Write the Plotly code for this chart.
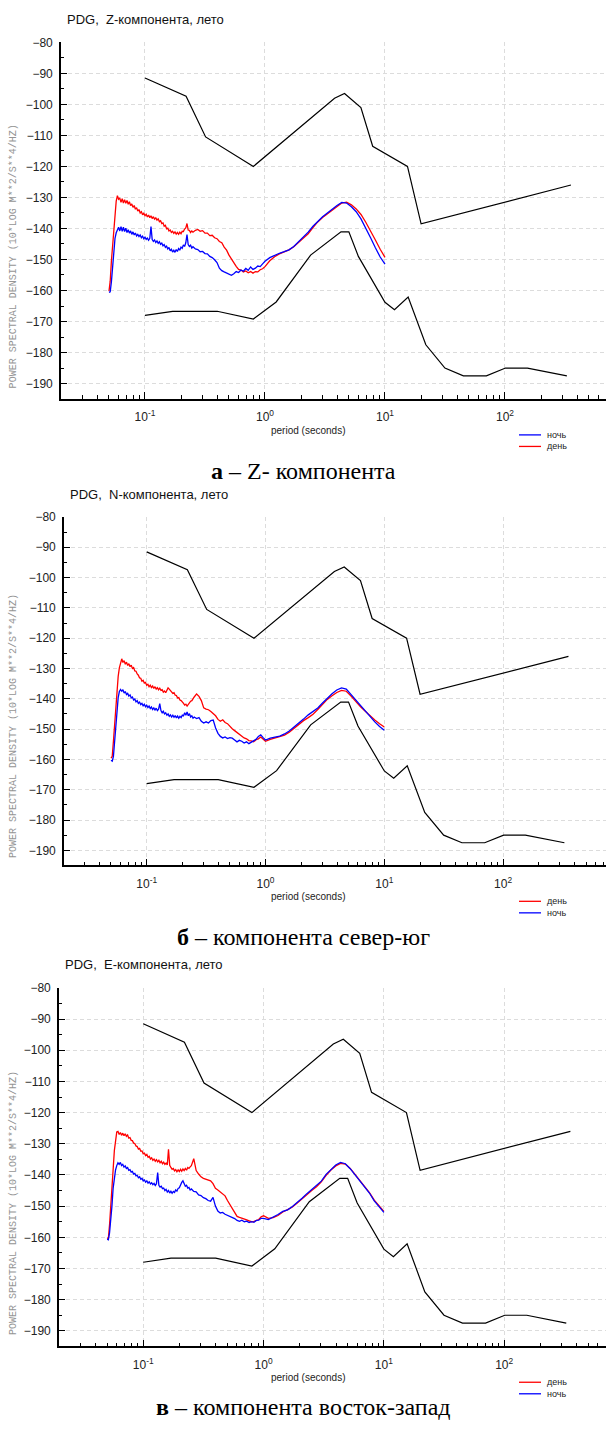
import plotly.graph_objects as go

# Shared period grid (log10 of period in seconds) for the measured spectra
LOG_PERIOD = [
    -1.30, -1.29, -1.28, -1.27, -1.26, -1.25, -1.24, -1.23, -1.22, -1.21,
    -1.20, -1.19, -1.18, -1.17, -1.16, -1.15, -1.14, -1.13, -1.12, -1.11,
    -1.10, -1.09, -1.08, -1.07, -1.06, -1.05, -1.04, -1.03, -1.02, -1.01,
    -1.00, -0.99, -0.98, -0.97, -0.96, -0.95, -0.94, -0.93, -0.92, -0.91,
    -0.90, -0.89, -0.88, -0.87, -0.86, -0.85, -0.84, -0.83, -0.82, -0.81,
    -0.80, -0.79, -0.78, -0.77, -0.76, -0.75, -0.74, -0.73, -0.72, -0.71,
    -0.70, -0.69, -0.68, -0.67, -0.66, -0.65, -0.64, -0.63, -0.62, -0.61,
    -0.60,
    -0.58, -0.56, -0.54, -0.52, -0.50, -0.48, -0.46, -0.44, -0.42, -0.40,
    -0.38, -0.36, -0.34, -0.32, -0.30, -0.28, -0.26, -0.24, -0.22, -0.20,
    -0.18, -0.16, -0.14, -0.12, -0.10, -0.08, -0.06, -0.04, -0.02, 0.00,
    0.04, 0.08, 0.12, 0.16, 0.20, 0.24, 0.28, 0.32, 0.36, 0.40,
    0.44, 0.48, 0.52, 0.56, 0.60, 0.64, 0.68, 0.72, 0.76, 0.80,
    0.84, 0.88, 0.92, 0.96, 1.00,
]

# Z component, day / night (dB)
Z_DAY = [
    -160.2, -157.0, -150.5, -144.8, -139.6, -135.0, -131.2, -129.4, -130.6, -130.2,
    -131.6, -130.4, -131.8, -130.7, -131.9, -131.0, -132.2, -131.4, -132.6, -132.1,
    -133.2, -132.6, -133.8, -133.3, -134.4, -133.9, -135.0, -134.6, -135.6, -135.1,
    -135.9, -135.4, -136.3, -135.7, -136.5, -135.9, -136.8, -136.2, -137.0, -136.6,
    -137.3, -136.9, -137.8, -137.5, -138.4, -138.2, -139.3, -139.0, -140.1, -139.9,
    -140.8, -140.5, -141.3, -140.9, -141.6, -141.1, -141.8, -141.3, -141.9, -141.2,
    -141.7, -140.9, -141.0, -140.2, -139.8, -138.4, -140.5, -140.6, -141.3, -140.8,
    -141.2,
    -140.6, -140.3, -140.9, -140.7, -141.5, -141.5, -142.3, -142.2, -143.0, -143.3,
    -144.2, -144.6, -146.0, -147.0, -148.6, -149.8, -151.3, -152.2, -153.2, -153.4,
    -154.0, -153.7, -154.3, -153.9, -154.4, -153.9, -154.0, -153.3, -153.0, -152.3,
    -150.4, -149.1, -148.2, -147.5, -146.9, -145.9, -144.6, -143.3, -141.7, -139.7,
    -137.9, -136.5, -135.3, -134.0, -132.8, -131.8, -131.5, -132.4, -133.7, -135.5,
    -138.0, -140.7, -143.7, -146.7, -149.3,
]
Z_NIGHT = [
    -160.6, -160.4, -157.2, -152.0, -147.0, -143.2, -141.4, -140.2, -139.6, -140.8,
    -139.4, -140.9, -139.6, -141.0, -139.9, -141.3, -140.4, -141.5, -140.8, -141.9,
    -141.1, -142.1, -141.5, -142.4, -141.9, -142.6, -142.1, -143.0, -142.5, -143.3,
    -142.8, -143.5, -143.1, -143.8, -143.2, -139.4, -143.6, -144.2, -143.7, -144.5,
    -144.0, -144.8, -144.3, -145.1, -144.7, -145.6, -145.2, -146.1, -145.7, -146.6,
    -146.1, -147.2, -146.7, -147.6, -147.0, -147.7, -146.8, -147.4, -146.5, -147.0,
    -146.0, -146.4, -145.3, -145.8, -144.6, -142.0, -145.2, -145.8, -145.4, -146.3,
    -145.9,
    -146.6, -146.8, -147.5, -147.4, -148.1, -148.2, -149.0, -149.4, -150.1, -151.0,
    -152.8, -153.6, -154.0, -154.3, -154.6, -155.1, -154.6, -153.9, -154.2, -153.4,
    -153.8, -152.9, -153.5, -152.4, -153.2, -152.8, -152.1, -152.3, -151.4, -150.6,
    -149.4, -148.6, -148.0, -147.5, -146.9, -145.8, -144.3, -143.0, -141.2, -139.3,
    -137.6, -136.2, -135.0, -133.7, -132.6, -131.6, -131.8, -133.0, -134.6, -136.9,
    -139.8, -143.0, -146.2, -149.2, -151.5,
]

# N component (north-south), day / night (dB)
N_DAY = [
    -159.6, -159.0, -154.0, -148.4, -142.0, -136.4, -132.6, -129.8, -127.6, -126.8,
    -128.0, -127.4, -128.6, -127.9, -129.0, -128.4, -129.4, -128.9, -130.0, -129.7,
    -130.8, -130.9, -131.8, -132.2, -133.1, -133.2, -134.2, -133.9, -134.8, -134.6,
    -135.5, -135.2, -136.0, -135.5, -136.3, -135.8, -136.6, -136.0, -136.8, -136.3,
    -137.0, -136.5, -137.2, -137.0, -137.8, -137.4, -138.0, -137.0, -136.4, -136.8,
    -137.3, -137.6, -138.2, -138.0, -138.8, -138.9, -139.7, -139.6, -140.4, -140.6,
    -141.3, -141.5, -142.1, -141.8, -142.4, -141.7, -141.5, -140.8, -140.6, -139.7,
    -139.4,
    -138.4, -139.2, -140.6, -143.0, -143.4, -143.6, -144.2, -144.8, -145.6, -146.8,
    -147.4, -146.9, -147.8, -148.2, -149.1, -149.9, -150.5, -151.1, -151.8, -152.3,
    -152.9, -153.2, -153.8, -153.9, -154.2, -153.5, -153.2, -152.6, -153.4, -154.0,
    -153.4, -153.0, -152.6, -152.0, -151.0, -149.7, -148.4, -147.2, -146.2, -145.1,
    -143.5, -141.8, -140.2, -139.0, -137.9, -137.2, -137.5, -139.1, -140.9, -142.6,
    -144.1, -145.6, -147.0, -148.2, -149.3,
]
N_NIGHT = [
    -160.3, -160.6, -159.0, -154.2, -148.2, -143.0, -139.6, -137.6, -136.9, -137.5,
    -137.0, -138.1, -137.6, -138.6, -138.2, -139.1, -138.7, -139.7, -139.4, -140.4,
    -140.1, -141.0, -140.6, -141.5, -141.1, -141.9, -141.5, -142.3, -141.8, -142.6,
    -142.1, -142.9, -142.4, -143.2, -142.7, -143.5, -143.0, -143.7, -143.1, -143.9,
    -143.4, -141.6, -143.9, -144.6, -144.1, -145.0, -144.6, -145.4, -145.0, -145.8,
    -145.3, -146.0, -145.4, -146.1, -145.5, -146.3, -145.7, -146.4, -145.8, -146.2,
    -145.4, -145.6, -144.6, -145.4, -144.3, -145.6, -144.9, -146.0, -145.6, -146.4,
    -146.0,
    -146.5, -146.2, -147.4, -148.0, -147.6, -148.0, -147.2, -147.0, -149.6, -151.4,
    -152.4, -152.9, -152.6, -153.1, -152.8, -153.0, -153.6, -154.2, -153.7, -154.0,
    -154.6, -154.2, -154.8, -154.4, -154.0, -153.4, -152.4, -151.9, -152.8, -153.6,
    -153.0, -152.6, -152.3, -151.6, -150.6, -149.3, -148.1, -146.7, -145.3, -144.2,
    -143.0, -141.4, -139.7, -138.3, -137.1, -136.4, -136.8, -138.6, -140.5, -142.3,
    -144.2, -146.0, -147.6, -149.1, -150.4,
]

# E component (east-west), day / night (dB)
E_DAY = [
    -160.1, -160.5, -156.0, -151.0, -145.0, -138.2, -132.2, -128.4, -126.2, -126.0,
    -127.0, -126.4, -127.3, -126.6, -127.4, -126.8, -127.6, -127.2, -128.2, -128.0,
    -128.9, -129.0, -129.8, -129.9, -130.7, -130.9, -131.7, -131.5, -132.4, -132.3,
    -133.2, -133.0, -133.8, -133.4, -134.3, -134.0, -134.9, -134.5, -135.3, -134.9,
    -135.6, -135.1, -135.8, -135.3, -136.1, -135.6, -136.4, -135.9, -136.6, -136.2,
    -136.8, -131.8, -136.9, -137.6, -138.2, -137.9, -138.7, -138.3, -139.0, -138.4,
    -138.9, -138.2, -138.8, -138.1, -138.6, -137.9, -138.5, -137.6, -137.9, -137.4,
    -137.0,
    -134.8, -138.6, -139.7, -140.6, -141.1, -141.4, -141.6, -141.9, -142.8, -144.3,
    -144.8, -145.4, -145.9, -146.7, -148.2, -149.4, -150.8, -152.0, -153.3, -153.6,
    -153.8, -154.1, -154.4, -154.7, -155.0, -154.9, -154.7, -154.3, -153.4, -153.1,
    -153.9, -153.7, -153.0, -151.9, -151.1, -150.3, -149.0, -147.6, -146.3, -145.0,
    -143.8, -142.2, -140.1, -138.4, -137.1, -136.3, -136.5, -137.9, -139.8, -141.7,
    -143.6, -145.7, -148.1, -149.9, -151.7,
]
E_NIGHT = [
    -160.6, -160.8, -158.6, -155.0, -150.0, -144.2, -140.6, -138.4, -137.0, -136.1,
    -136.6, -136.0, -137.0, -136.6, -137.5, -137.1, -137.9, -137.6, -138.5, -138.3,
    -139.1, -138.9, -139.7, -139.5, -140.3, -140.1, -140.9, -140.6, -141.4, -141.1,
    -141.9, -141.6, -142.3, -141.9, -142.6, -142.2, -142.9, -142.5, -143.1, -142.7,
    -143.4, -142.8, -139.2, -143.3, -143.9, -143.6, -144.4, -144.2, -145.0, -144.6,
    -145.5, -145.0, -145.8, -145.2, -145.9, -145.3, -145.6, -144.8, -145.2, -144.3,
    -144.1, -143.0, -142.4, -141.9, -142.8, -143.6, -143.3, -144.2, -144.0, -144.8,
    -144.5,
    -145.3, -145.4, -146.4, -146.6, -147.3, -147.6, -148.2, -148.4, -147.2, -150.0,
    -151.6, -152.2, -152.0, -152.6, -152.9, -153.3, -153.5, -154.0, -154.6, -154.9,
    -154.5, -155.0, -154.8, -155.3, -155.0, -155.2, -154.6, -154.5, -153.9, -153.9,
    -154.3, -153.6, -152.7, -151.7, -151.2, -150.1, -148.9, -147.5, -146.0, -144.7,
    -143.6, -142.0, -139.8, -138.2, -136.8, -136.0, -136.4, -138.0, -140.0, -141.8,
    -143.7, -145.8, -148.3, -150.0, -152.0,
]

# Peterson high / low noise models (period s, dB)
NHNM_PERIOD = [0.10, 0.22, 0.32, 0.80, 3.80, 4.60, 6.30, 7.90, 15.40, 20.00, 354.80]
NHNM_DB = [-91.5, -97.4, -110.5, -120.0, -98.0, -96.5, -101.0, -113.5, -120.0, -138.5, -126.0]
NLNM_PERIOD = [0.10, 0.17, 0.40, 0.80, 1.24, 2.40, 4.30, 5.00, 6.00, 10.00, 12.00,
               15.60, 21.90, 31.60, 45.00, 70.00, 101.00, 154.00, 328.00]
NLNM_DB = [-168.0, -166.7, -166.7, -169.2, -163.7, -148.6, -141.1, -141.1, -149.0, -163.8,
           -166.2, -162.1, -177.5, -185.0, -187.5, -187.5, -185.0, -185.0, -187.5]

Y_TICKS = [-80, -90, -100, -110, -120, -130, -140, -150, -160, -170, -180, -190]
X_TICKS = [0.1, 1, 10, 100]
X_TICK_TEXT = ["10<sup>-1</sup>", "10<sup>0</sup>", "10<sup>1</sup>", "10<sup>2</sup>"]
X_MINOR = [m * 10.0 ** e for e in (-2, -1, 0, 1, 2) for m in range(2, 10)]

for s in (Z_DAY, Z_NIGHT, N_DAY, N_NIGHT, E_DAY, E_NIGHT):
    assert len(s) == len(LOG_PERIOD), len(s)

PERIOD = [10 ** v for v in LOG_PERIOD]

W, H = 606, 1432
RED, BLUE = "#ff0000", "#0000ff"
SANS = "Liberation Sans, Arial, sans-serif"
SERIF = "Liberation Serif, Times New Roman, serif"
MONO = "Liberation Mono, Courier New, monospace"
GRID = "#dcdcdc"


def fx(px):
    return px / W


def fy(py):
    return 1 - py / H


panels = [
    dict(title="PDG,  Z-компонента, лето", letter="а", caption=" – Z- компонента",
         day=Z_DAY, night=Z_NIGHT, order=("ночь", "день"),
         left=61, top=35.5, bottom=394, xr=[-1.70, 2.842], cap_y=466),
    dict(title="PDG,  N-компонента, лето", letter="б", caption=" – компонента север-юг",
         day=N_DAY, night=N_NIGHT, order=("день", "ночь"),
         left=64, top=512.5, bottom=862.7, xr=[-1.696, 2.866], cap_y=935),
    dict(title="PDG,  E-компонента, лето", letter="в", caption=" – компонента восток-запад",
         day=E_DAY, night=E_NIGHT, order=("день", "ночь"),
         left=59, top=985.7, bottom=1346, xr=[-1.70, 2.846], cap_y=1407),
]

fig = go.Figure()
annotations = []
shapes = []
colour = {"день": RED, "ночь": BLUE}

for i, p in enumerate(panels, start=1):
    xa = "x" if i == 1 else f"x{i}"
    ya = "y" if i == 1 else f"y{i}"

    fig.add_trace(go.Scatter(x=NHNM_PERIOD, y=NHNM_DB, mode="lines", xaxis=xa, yaxis=ya,
                             line=dict(color="black", width=1.2), showlegend=False))
    fig.add_trace(go.Scatter(x=NLNM_PERIOD, y=NLNM_DB, mode="lines", xaxis=xa, yaxis=ya,
                             line=dict(color="black", width=1.2), showlegend=False))
    fig.add_trace(go.Scatter(x=PERIOD, y=p["day"], mode="lines", name="день", xaxis=xa, yaxis=ya,
                             line=dict(color=RED, width=1.3), showlegend=False))
    fig.add_trace(go.Scatter(x=PERIOD, y=p["night"], mode="lines", name="ночь", xaxis=xa, yaxis=ya,
                             line=dict(color=BLUE, width=1.3), showlegend=False))

    xkey = "xaxis" if i == 1 else f"xaxis{i}"
    ykey = "yaxis" if i == 1 else f"yaxis{i}"
    fig.layout[xkey] = dict(
        type="log", range=p["xr"], domain=[fx(p["left"]), 1.0], anchor=ya,
        tickmode="array", tickvals=X_TICKS, ticktext=X_TICK_TEXT,
        ticks="inside", ticklen=7, tickwidth=1.2, tickcolor="black",
        ticklabelstandoff=6,
        minor=dict(tickmode="array", tickvals=X_MINOR, ticks="inside", ticklen=4,
                   tickwidth=1, tickcolor="black", showgrid=False),
        showline=True, linecolor="black", linewidth=1.6, mirror=False,
        showgrid=True, gridcolor=GRID, griddash="4px,3px", gridwidth=1,
        zeroline=False, tickfont=dict(family=SANS, size=12, color="#222"),
    )
    fig.layout[ykey] = dict(
        range=[-195, -80], domain=[fy(p["bottom"]), fy(p["top"])], anchor=xa,
        tickmode="array", tickvals=Y_TICKS,
        ticks="inside", ticklen=6, tickwidth=1.2, tickcolor="black",
        ticklabelstandoff=4,
        minor=dict(dtick=5, ticks="inside", ticklen=3, tickwidth=1, tickcolor="black",
                   showgrid=False),
        showline=True, linecolor="black", linewidth=1.6, mirror=False,
        showgrid=True, gridcolor=GRID, griddash="4px,3px", gridwidth=1,
        zeroline=False, tickfont=dict(family=SANS, size=12, color="#222"),
    )

    # panel title
    annotations.append(dict(text=p["title"], x=fx(p["left"] + 4), y=fy(p["top"] - 23),
                            xref="paper", yref="paper", xanchor="left", yanchor="middle",
                            showarrow=False, font=dict(family=SANS, size=13, color="#111")))
    # y-axis title
    annotations.append(dict(text="POWER SPECTRAL DENSITY (10*LOG M**2/S**4/HZ)",
                            x=fx(13), y=fy(p["top"] + 0.6 * (p["bottom"] - p["top"])),
                            xref="paper", yref="paper", xanchor="center", yanchor="middle",
                            textangle=-90, showarrow=False,
                            font=dict(family=MONO, size=10, color="#959595")))
    # x-axis title
    annotations.append(dict(text="period (seconds)", x=fx(308), y=fy(p["bottom"] + 31.5),
                            xref="paper", yref="paper", xanchor="center", yanchor="middle",
                            showarrow=False, font=dict(family=SANS, size=10, color="#222")))
    # legend
    for k, name in enumerate(p["order"]):
        ly = p["bottom"] + 36 + 11.6 * k
        shapes.append(dict(type="line", xref="paper", yref="paper",
                           x0=fx(519), x1=fx(541), y0=fy(ly), y1=fy(ly),
                           line=dict(color=colour[name], width=1.3)))
        annotations.append(dict(text=name, x=fx(545), y=fy(ly), xref="paper", yref="paper",
                                xanchor="left", yanchor="middle", showarrow=False,
                                font=dict(family=SANS, size=9, color="#222")))
    # caption under the panel
    annotations.append(dict(text=f"<b>{p['letter']}</b>{p['caption']}", x=0.5, y=fy(p["cap_y"]),
                            xref="paper", yref="paper", xanchor="center", yanchor="middle",
                            showarrow=False, font=dict(family=SERIF, size=24, color="black")))

fig.update_layout(
    width=W, height=H, margin=dict(l=0, r=0, t=0, b=0),
    paper_bgcolor="white", plot_bgcolor="white",
    showlegend=False, annotations=annotations, shapes=shapes,
)

fig.write_html("out.html")
